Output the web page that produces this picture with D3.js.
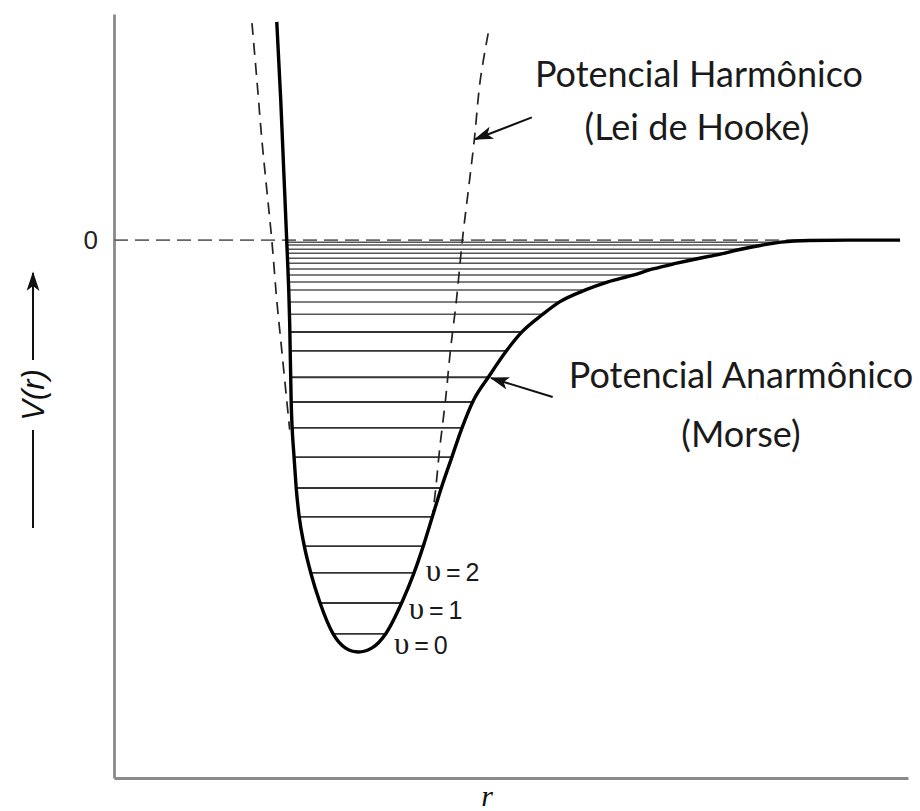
<!DOCTYPE html>
<html>
<head>
<meta charset="utf-8">
<script src="https://cdn.jsdelivr.net/npm/d3@7"></script>
<style>
  body { margin: 0; background: #fff; }
  svg { display: block; }
</style>
</head>
<body>
<svg id="chart" width="920" height="811"></svg>
<script>
// Morse (anharmonic) potential: r and V (well depth = 100)
const morseR = [16.4, 16.8, 17.1, 17.4, 17.7, 17.85, 18.15, 18.35, 18.65, 19.15, 19.85, 20.75, 22.05, 23.3, 24.6, 26.0, 27.4, 29.0, 30.2, 31.2, 32.1, 33.0, 34.0, 35.0, 36.2, 37.8, 39.6, 41.1, 43.2, 44.9, 47.5, 49.7, 52.3, 54.3, 56.7, 59.0, 61.1, 62.8, 65.1, 67.2, 70.0, 74.0, 79.2];
const morseV = [53, 34, 17, 0, -20, -39, -53, -60, -67, -74, -81, -88, -95.5, -99, -100, -99, -95.5, -88, -81, -74, -67, -60, -53, -46, -39, -33, -26.7, -22.3, -18.0, -15.0, -12.1, -10.2, -8.5, -7.0, -5.6, -4.4, -3.4, -2.4, -1.3, -0.5, -0.08, 0, 0];

// harmonic (Hooke) parabola, both visible branches
const harmLeftR = [13.9, 14.4, 14.9, 15.4, 15.9, 16.4, 16.9, 17.4, 17.7];
const harmLeftV = [52.7, 38.8, 24.3, 12.1, 0, -14.6, -26.7, -38.8, -46];
const harmRightR = [37.7, 36.9, 36.3, 35.7, 35.1, 34.5, 33.9, 33.4, 32.8, 32.4, 32.1];
const harmRightV = [50.2, 38.8, 24.3, 12.1, 0, -14.6, -26.7, -38.8, -51, -60.7, -66.7];

// vibrational levels (v = 0 at the bottom)
const levelV = [-95.6, -88.1, -80.8, -74.3, -67.2, -60.2, -52.7, -45.6, -39.3, -33.3, -26.9, -22.3, -18.0, -15.0, -12.1, -10.2, -8.5, -7.0, -5.6, -4.4, -3.2, -2.2, -1.2, -0.5];
const levelLabels = ["0", "1", "2"];

const yTickValues = [0];
const yTickLabels = ["0"];

const width = 920, height = 811;
const margin = { top: 14, right: 12, bottom: 33, left: 114 };

const svg = d3.select("#chart");

const xScale = d3.scaleLinear()
    .domain([0, 80])
    .range([margin.left, width - margin.right]);

const yScale = d3.scaleLinear()
    .domain([-130.6, 54.9])
    .range([height - margin.bottom, margin.top]);

const morse = morseR.map((r, i) => ({ r: r, v: morseV[i] }));
const harmLeft = harmLeftR.map((r, i) => ({ r: r, v: harmLeftV[i] }));
const harmRight = harmRightR.map((r, i) => ({ r: r, v: harmRightV[i] }));

const morseLine = d3.line()
    .curve(d3.curveMonotoneX)
    .x(d => xScale(d.r))
    .y(d => yScale(d.v));

const line = d3.line()
    .curve(d3.curveCatmullRom.alpha(0.5))
    .x(d => xScale(d.r))
    .y(d => yScale(d.v));

const defs = svg.append("defs");

// clip region: everything above the Morse curve
const yTop = yScale.range()[1];
defs.append("clipPath")
    .attr("id", "well")
    .append("path")
    .attr("d", morseLine(morse) +
        `L${xScale(morse[morse.length - 1].r)},${yTop}L${xScale(morse[0].r)},${yTop}Z`);

defs.append("marker")
    .attr("id", "head")
    .attr("viewBox", "0 0 12 8")
    .attr("refX", 11)
    .attr("refY", 4)
    .attr("markerWidth", 10)
    .attr("markerHeight", 6.5)
    .attr("markerUnits", "strokeWidth")
    .attr("orient", "auto")
    .append("path")
    .attr("d", "M0,0L12,4L0,8L3,4Z")
    .attr("fill", "#111");

// axes
const yAxis = d3.axisLeft(yScale)
    .tickValues(yTickValues)
    .tickFormat((d, i) => yTickLabels[i])
    .tickSize(0)
    .tickPadding(16);

svg.append("g")
    .attr("class", "y-axis")
    .attr("transform", `translate(${margin.left},0)`)
    .call(yAxis)
    .call(g => g.select(".domain").attr("stroke", "#8a8a8a").attr("stroke-width", 2.8))
    .call(g => g.selectAll("text")
        .attr("font-family", "Liberation Sans, Arial, sans-serif")
        .attr("font-size", 26)
        .attr("fill", "#222"));

const xAxis = d3.axisBottom(xScale)
    .tickValues([])
    .tickSizeOuter(0);

svg.append("g")
    .attr("class", "x-axis")
    .attr("transform", `translate(0,${height - margin.bottom})`)
    .call(xAxis)
    .call(g => g.select(".domain").attr("stroke", "#8a8a8a").attr("stroke-width", 2.8));

// energy levels, clipped to the inside of the well
svg.append("g")
    .attr("clip-path", "url(#well)")
    .selectAll("line")
    .data(levelV)
    .join("line")
    .attr("x1", xScale(10))
    .attr("x2", xScale(80))
    .attr("y1", d => yScale(d))
    .attr("y2", d => yScale(d))
    .attr("stroke", d => d < -20 ? "#333" : "#555")
    .attr("stroke-width", d => d < -20 ? 1.9 : 1.5);

// dissociation line V = 0
svg.append("line")
    .attr("x1", xScale(0))
    .attr("x2", xScale(79.2))
    .attr("y1", yScale(0))
    .attr("y2", yScale(0))
    .attr("stroke", "#666")
    .attr("stroke-width", 1.7)
    .attr("stroke-dasharray", "14,7");

// harmonic parabola
[harmLeft, harmRight].forEach(branch => {
    svg.append("path")
        .datum(branch)
        .attr("fill", "none")
        .attr("stroke", "#222")
        .attr("stroke-width", 1.7)
        .attr("stroke-dasharray", "12,8")
        .attr("d", line);
});

// Morse curve
svg.append("path")
    .datum(morse)
    .attr("fill", "none")
    .attr("stroke", "#000")
    .attr("stroke-width", 3.4)
    .attr("stroke-linejoin", "round")
    .attr("d", morseLine);

// level labels
const labelPos = [[28.2, -100.6], [29.7, -92.0], [31.4, -82.7]];
const lvl = svg.selectAll(".lvl")
    .data(levelLabels)
    .join("text")
    .attr("class", "lvl")
    .attr("x", (d, i) => xScale(labelPos[i][0]))
    .attr("y", (d, i) => yScale(labelPos[i][1]))
    .attr("font-family", "Liberation Sans, Arial, sans-serif")
    .attr("font-size", 25)
    .attr("word-spacing", -2)
    .attr("fill", "#1a1a1a");
lvl.append("tspan")
    .attr("font-family", "Liberation Serif, serif")
    .attr("font-size", 31)
    .text("υ");
lvl.append("tspan")
    .text(d => " = " + d);

// annotations
const font = "Lato, sans-serif";
const notes = [
    { text: "Potencial Harmônico", x: 699, y: 87 },
    { text: "(Lei de Hooke)", x: 697, y: 140 },
    { text: "Potencial Anarmônico", x: 741, y: 388 },
    { text: "(Morse)", x: 741, y: 447 }
];
svg.selectAll(".note")
    .data(notes)
    .join("text")
    .attr("class", "note")
    .attr("x", d => d.x)
    .attr("y", d => d.y)
    .attr("text-anchor", "middle")
    .attr("font-family", font)
    .attr("font-size", 36)
    .attr("fill", "#1a1a1a")
    .text(d => d.text);

const arrows = [
    { from: [42.1, 29.8], to: [36.4, 24.5] },
    { from: [44.2, -38.1], to: [38.0, -33.5] }
];
svg.selectAll(".arrow")
    .data(arrows)
    .join("line")
    .attr("class", "arrow")
    .attr("x1", d => xScale(d.from[0]))
    .attr("y1", d => yScale(d.from[1]))
    .attr("x2", d => xScale(d.to[0]))
    .attr("y2", d => yScale(d.to[1]))
    .attr("stroke", "#111")
    .attr("stroke-width", 2)
    .attr("marker-end", "url(#head)");

// axis titles
const yl = svg.append("g").attr("transform", "translate(33,395)");
yl.append("text")
    .attr("transform", "rotate(-90)")
    .attr("text-anchor", "middle")
    .attr("dy", "0.35em")
    .attr("font-family", "Liberation Sans, Arial, sans-serif")
    .attr("font-style", "italic")
    .attr("font-size", 31)
    .attr("fill", "#111")
    .text("V(r)");
yl.append("line")
    .attr("x1", 0).attr("x2", 0)
    .attr("y1", -35).attr("y2", -122)
    .attr("stroke", "#111")
    .attr("stroke-width", 2)
    .attr("marker-end", "url(#head)");
yl.append("line")
    .attr("x1", 0).attr("x2", 0)
    .attr("y1", 35).attr("y2", 133)
    .attr("stroke", "#111")
    .attr("stroke-width", 2);

svg.append("text")
    .attr("x", 487)
    .attr("y", 806)
    .attr("text-anchor", "middle")
    .attr("font-family", "Liberation Serif, serif")
    .attr("font-style", "italic")
    .attr("font-size", 30)
    .attr("fill", "#111")
    .text("r");
</script>
</body>
</html>
